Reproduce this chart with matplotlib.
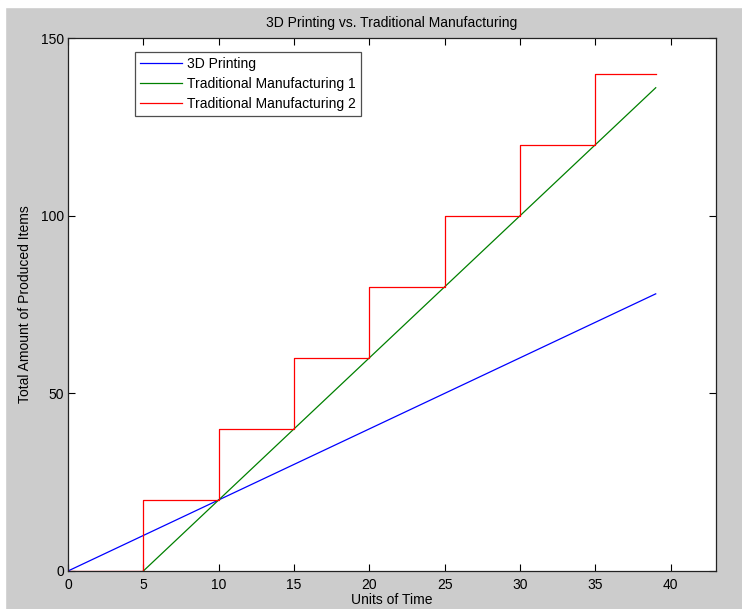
import matplotlib
matplotlib.use("Agg")
import matplotlib.pyplot as plt
from matplotlib.patches import Rectangle

# data
time_3d = [0, 5, 10, 15, 20, 25, 30, 35, 39]
items_3d = [0, 10, 20, 30, 40, 50, 60, 70, 78]

time_trad1 = [5, 10, 15, 20, 25, 30, 35, 39]
items_trad1 = [0, 20, 40, 60, 80, 100, 120, 136]

time_trad2 = [0, 5, 10, 15, 20, 25, 30, 35, 39]
items_trad2 = [0, 20, 40, 60, 80, 100, 120, 140, 140]

xticks = [0, 5, 10, 15, 20, 25, 30, 35, 40]
yticks = [0, 50, 100, 150]

plt.rcParams['font.family'] = ['Liberation Sans', 'DejaVu Sans']

W, H = 742, 609
fig = plt.figure(figsize=(W / 100, H / 100), dpi=100, facecolor='#cccccc')
# thin white strip on top and left edge like the screenshot
fig.patches.append(Rectangle((0, 0), 5 / W, 1, transform=fig.transFigure, color='white', zorder=-1))
fig.patches.append(Rectangle((0, 1 - 7 / H), 1, 7 / H, transform=fig.transFigure, color='white', zorder=-1))

ax = fig.add_axes([68 / W, 1 - 571 / H, (716 - 68) / W, (571 - 38) / H])
ax.set_facecolor('white')

ax.plot(time_3d, items_3d, color='#0000ff', lw=0.9, label='3D Printing')
ax.plot(time_trad1, items_trad1, color='#008000', lw=0.9, label='Traditional Manufacturing 1')
ax.step(time_trad2, items_trad2, where='post', color='#ff0000', lw=0.9, label='Traditional Manufacturing 2')

ax.set_xlim(0, 43)
ax.set_ylim(0, 150)
ax.set_xticks(xticks)
ax.set_yticks(yticks)
ax.tick_params(direction='in', top=True, right=True, length=5, width=0.8, labelsize=10, pad=3, colors='black')
ax.tick_params(axis='x', pad=5)
for s in ax.spines.values():
    s.set_linewidth(0.9)
    s.set_color('#222222')

ax.set_title('3D Printing vs. Traditional Manufacturing', fontsize=10, pad=8)
ax.set_xlabel('Units of Time', fontsize=10, labelpad=1)
ax.set_ylabel('Total Amount of Produced Items', fontsize=10, labelpad=6)

leg = ax.legend(loc='upper left', bbox_to_anchor=((135 - 68) / (716 - 68), 1 - (52 - 38) / (571 - 38)),
                fontsize=10, frameon=True, fancybox=False, borderpad=0.35, labelspacing=0.45,
                handlelength=3.0, handletextpad=0.4, borderaxespad=0)
leg.get_frame().set_edgecolor('#222222')
leg.get_frame().set_linewidth(0.9)

fig.savefig('out.png', dpi=100, facecolor=fig.get_facecolor())
